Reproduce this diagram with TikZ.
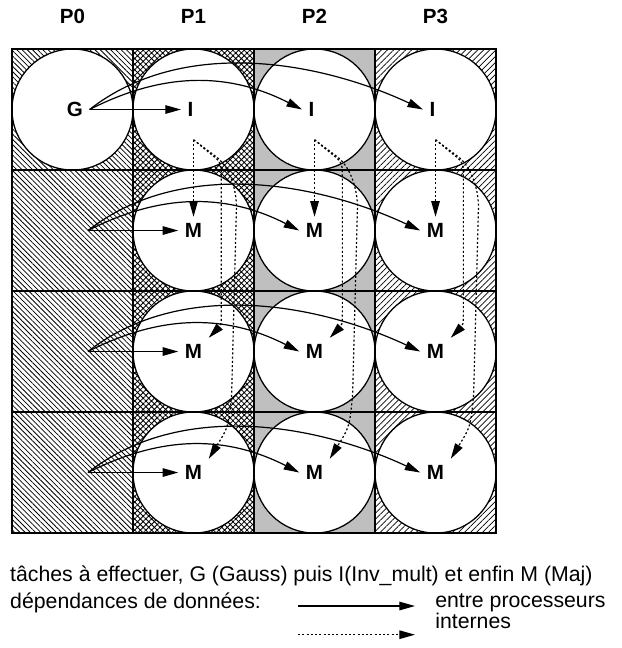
\documentclass[tikz,border=0pt]{standalone}
\usepackage{fontspec}
\setmainfont{Liberation Sans}
\usetikzlibrary{arrows.meta,patterns.meta}

\tikzstyle{comm}=[line width=0.85pt,-{Triangle[length=11pt,width=6pt]}]
\tikzstyle{internal}=[comm,dash pattern=on 1.4pt off 1.6pt]
\tikzstyle{task}=[font=\bfseries\fontsize{14.5}{17}\selectfont,inner sep=4.5pt]
\tikzstyle{legend}=[font=\fontsize{15}{18}\selectfont,anchor=west,inner sep=0pt]
% one fill per processor column
\tikzstyle{proc0}=[pattern={Lines[angle=-45,distance=2.6pt,line width=0.55pt]}]
\tikzstyle{proc1}=[pattern={Hatch[angle=45,distance=2.8pt,line width=0.6pt]}]
\tikzstyle{proc2}=[fill=black!25]
\tikzstyle{proc3}=[pattern={Lines[angle=45,distance=3pt,line width=0.5pt]}]

% three messages leaving #1: to the next column, then two bent ones
\newcommand{\fanout}[4]{
\draw[comm] (#1) -- (#2.west);
\draw[comm] (#1) to[out=27,in=153] (#3.west);
\draw[comm] (#1) to[out=38,in=155,looseness=.9] (#4.west);
}
% local dependencies inside column #1, from I down to the M's
\newcommand{\localdeps}[1]{
\pgfmathsetmacro{\cx}{#1+.5}
\coordinate (o#1) at (\cx,-.75);
\draw[internal] (o#1) -- (M#11.north);
\draw[internal] (o#1) -- (\cx+.17,-.89) .. controls (\cx+.23,-.94) .. (\cx+.23,-1.1)
  -- (\cx+.23,-2.15) .. controls (\cx+.23,-2.28) .. (M#12.north east);
\draw[internal] (o#1) -- (\cx+.2,-.9) .. controls (\cx+.27,-.96) and (\cx+.35,-1.1) .. (\cx+.355,-1.3)
  -- (\cx+.315,-2.85) .. controls (\cx+.29,-3.12) .. (M#13.north east);
}

\begin{document}
\begin{tikzpicture}[x=3cm,y=3cm]
\useasboundingbox (-.0992,.405) rectangle (5.033,-4.95);

% processors
\foreach \c/\colfill in {0/proc0,1/proc1,2/proc2,3/proc3}
  \fill[\colfill] (\c,0) rectangle ++(1,-4);
\draw[line width=.9pt,fill=white] (.5,-.5) circle (.5);
\foreach \c in {1,2,3}
  \foreach \row in {0,...,3}
    \draw[line width=.9pt,fill=white] (\c+.5,-\row-.5) circle (.5);
\draw[line width=.9pt,step=3cm] (0,0) grid (4,-4);
\draw[line width=1.2pt] (0,0) rectangle (4,-4);

\foreach \c in {0,...,3}
  \node[task] (P\c) at (\c+.5,.27) {P\c};

% tasks
\node[task] (G) at (.52,-.5) {G};
\foreach \c in {1,2,3} {
  \node[task] (I\c) at (\c+.475,-.5) {I};
  \foreach \row in {1,2,3}
    \node[task] (M\c\row) at (\c+.5,-\row-.5) {M};
}

% dependencies
\fanout{G.east}{I1}{I2}{I3}
\foreach \row in {1,2,3} {
  \coordinate (s\row) at (.628,-\row-.5);
  \fanout{s\row}{M1\row}{M2\row}{M3\row}
}
\foreach \c in {1,2,3} {
  \localdeps{\c}
}

% legend
\node[legend] (tasks) at (-.017,-4.355) {tâches à effectuer, G (Gauss) puis I(Inv\_mult) et enfin M (Maj)};
\node[legend] (deps) at (-.017,-4.58) {dépendances de données:};
\coordinate (ea) at (2.364,-4.603);
\coordinate (eb) at (3.33,-4.603);
\draw[comm] (ea) -- (eb);
\node[legend] (ext) at (3.496,-4.58) {entre processeurs};
\coordinate (ia) at (2.364,-4.84);
\coordinate (ib) at (3.33,-4.84);
\draw[internal] (ia) -- (ib);
\node[legend] (int) at (3.496,-4.73) {internes};
\end{tikzpicture}
\end{document}
